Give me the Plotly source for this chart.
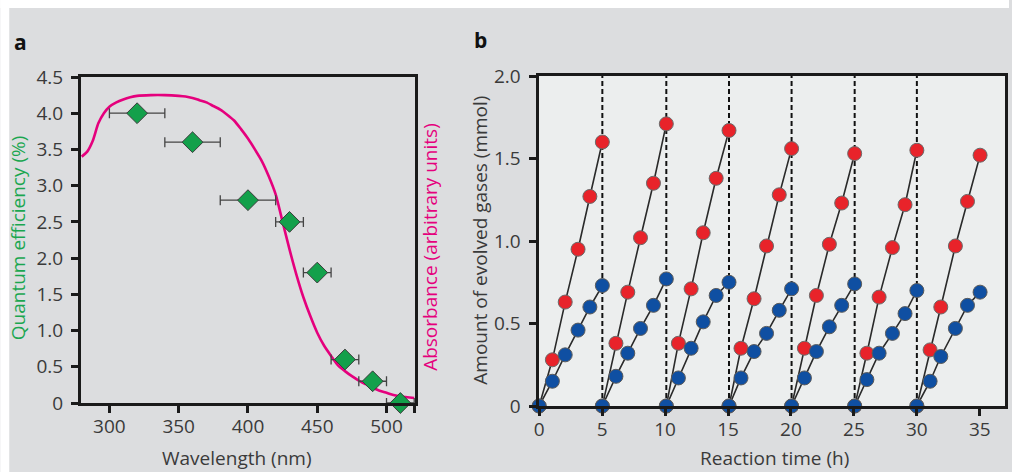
import plotly.graph_objects as go

# ---------------- Panel a data ----------------
qe_wavelength = [320, 360, 400, 430, 450, 470, 490, 510]
qe_values = [4.0, 3.6, 2.8, 2.5, 1.8, 0.6, 0.3, 0.0]
qe_xerr = [20, 20, 20, 10, 10, 10, 10, 10]

abs_wavelength = [280, 284, 288, 292, 296, 300, 305, 310, 315, 320, 330, 340, 350, 355,
                  360, 365, 370, 375, 380, 385, 390, 395, 400, 405, 410, 415, 420, 425,
                  430, 435, 440, 445, 450, 455, 460, 465, 470, 475, 480, 485, 490, 495,
                  500, 505, 510, 515, 520]
abs_values = [3.40, 3.47, 3.62, 3.86, 4.00, 4.09, 4.15, 4.19, 4.22, 4.24, 4.25, 4.25, 4.24, 4.23,
              4.21, 4.18, 4.15, 4.10, 4.05, 3.98, 3.90, 3.78, 3.65, 3.50, 3.34, 3.13, 2.88, 2.50,
              2.12, 1.77, 1.46, 1.20, 0.97, 0.79, 0.65, 0.52, 0.44, 0.37, 0.31, 0.26, 0.21, 0.17,
              0.14, 0.11, 0.09, 0.08, 0.07]

qe_yticks = [0, 0.5, 1.0, 1.5, 2.0, 2.5, 3.0, 3.5, 4.0, 4.5]
qe_yticklabels = ["0", "0.5", "1.0", "1.5", "2.0", "2.5", "3.0", "3.5", "4.0", "4.5"]
wl_ticks = [300, 350, 400, 450, 500, 520]
wl_ticklabels = ["300", "350", "400", "450", "500", ""]

# ---------------- Panel b data ----------------
cycle_times = [
    [0.0, 1.05, 2.07, 3.09, 4.03, 5.02],
    [5.02, 6.10, 7.04, 8.05, 9.08, 10.10],
    [10.10, 11.06, 12.07, 13.03, 14.06, 15.08],
    [15.08, 16.03, 17.07, 18.06, 19.07, 20.05],
    [20.05, 21.07, 22.02, 23.05, 24.03, 25.06],
    [25.06, 26.03, 27.00, 28.06, 29.06, 30.00],
    [30.00, 31.05, 31.90, 33.06, 34.02, 35.02],
]
red_gas = [
    [0, 0.28, 0.63, 0.95, 1.27, 1.60],
    [0, 0.38, 0.69, 1.02, 1.35, 1.71],
    [0, 0.38, 0.71, 1.05, 1.38, 1.67],
    [0, 0.35, 0.65, 0.97, 1.28, 1.56],
    [0, 0.35, 0.67, 0.98, 1.23, 1.53],
    [0, 0.32, 0.66, 0.96, 1.22, 1.55],
    [0, 0.34, 0.60, 0.97, 1.24, 1.52],
]
blue_gas = [
    [0, 0.15, 0.31, 0.46, 0.60, 0.73],
    [0, 0.18, 0.32, 0.47, 0.61, 0.77],
    [0, 0.17, 0.35, 0.51, 0.67, 0.75],
    [0, 0.17, 0.33, 0.44, 0.58, 0.71],
    [0, 0.17, 0.33, 0.48, 0.61, 0.74],
    [0, 0.16, 0.32, 0.44, 0.56, 0.70],
    [0, 0.15, 0.30, 0.47, 0.61, 0.69],
]
evac_times = [5.02, 10.10, 15.08, 20.05, 25.06, 30.00]

gas_yticks = [0, 0.5, 1.0, 1.5, 2.0]
gas_yticklabels = ["0", "0.5", "1.0", "1.5", "2.0"]
time_ticks = [0, 5, 10, 15, 20, 25, 30, 35]

# ---------------- Styles ----------------
FONT = "Open Sans"
TICKCOL = "#3a3a3a"
BG = "#dcdddf"
PLOTB_BG = "#eceeee"
GREEN = "#1aa64f"
PINK = "#e5007d"
RED = "#e8232a"
BLUE = "#0f4fa2"
FS = 19

fig = go.Figure()

# Panel a
fig.add_trace(go.Scatter(x=abs_wavelength, y=abs_values, mode="lines", line_shape="spline",
                         line=dict(color=PINK, width=2.6, smoothing=0.6), xaxis="x", yaxis="y",
                         showlegend=False, hoverinfo="skip"))
fig.add_trace(go.Scatter(x=qe_wavelength, y=qe_values, mode="markers",
                         error_x=dict(type="data", array=qe_xerr, color="#444444",
                                      thickness=1.3, width=5),
                         marker=dict(symbol="diamond", size=16, color="#13a04b",
                                     line=dict(color="#3c3c3c", width=1)),
                         xaxis="x", yaxis="y", showlegend=False, cliponaxis=False))

# Panel b: dashed evacuation lines
for t in evac_times:
    fig.add_trace(go.Scatter(x=[t, t], y=[0, 2.0], mode="lines",
                             line=dict(color="#111111", width=2, dash="5px,3px"),
                             xaxis="x2", yaxis="y2", showlegend=False, hoverinfo="skip"))
# lines
for tt, rr, bb in zip(cycle_times, red_gas, blue_gas):
    fig.add_trace(go.Scatter(x=tt, y=rr, mode="lines", line=dict(color="#2a2a2a", width=1.6),
                             xaxis="x2", yaxis="y2", showlegend=False, hoverinfo="skip"))
    fig.add_trace(go.Scatter(x=tt, y=bb, mode="lines", line=dict(color="#2a2a2a", width=1.6),
                             xaxis="x2", yaxis="y2", showlegend=False, hoverinfo="skip"))
# markers
for tt, rr in zip(cycle_times, red_gas):
    fig.add_trace(go.Scatter(x=tt, y=rr, mode="markers",
                             marker=dict(size=14, color=RED, line=dict(color="#6a6a6a", width=1)),
                             xaxis="x2", yaxis="y2", showlegend=False, cliponaxis=False))
for tt, bb in zip(cycle_times, blue_gas):
    fig.add_trace(go.Scatter(x=tt, y=bb, mode="markers",
                             marker=dict(size=14, color=BLUE, line=dict(color="#5a5a5a", width=1)),
                             xaxis="x2", yaxis="y2", showlegend=False, cliponaxis=False))

W, H = 1012, 472
ML, MR, MT, MB = 81, 4, 76, 66
PW, PH = W - ML - MR, H - MT - MB


def px(xp):
    return (xp - ML) / PW


def py(yp):
    return (H - MB - yp) / PH


axis_common = dict(showgrid=False, zeroline=False, showline=True, linecolor="#1a1a1a",
                   linewidth=3, mirror=True, ticks="outside", ticklen=7, tickwidth=2.5,
                   tickcolor="#1a1a1a",
                   tickfont=dict(family=FONT, size=FS, color=TICKCOL))

fig.update_layout(
    width=W, height=H,
    margin=dict(l=ML, r=MR, t=MT, b=MB),
    paper_bgcolor=BG, plot_bgcolor=BG,
    showlegend=False,
    xaxis=dict(domain=[px(81), px(416)], range=[279.5, 520.5], tickmode="array",
               tickvals=wl_ticks, ticktext=wl_ticklabels, anchor="y",
               ticklabelstandoff=-3, **axis_common),
    yaxis=dict(domain=[py(403), py(77)], range=[0, 4.5], tickmode="array",
               tickvals=qe_yticks, ticktext=qe_yticklabels, anchor="x",
               ticklabelstandoff=4, **axis_common),
    xaxis2=dict(domain=[px(540), px(1008)], range=[-0.05, 37.0], tickmode="array",
                tickvals=time_ticks, anchor="y2", ticklabelstandoff=-3, **axis_common),
    yaxis2=dict(domain=[py(406), py(76)], range=[0, 2.0], tickmode="array",
                tickvals=gas_yticks, ticktext=gas_yticklabels, anchor="x2",
                ticklabelstandoff=4, **axis_common),
)

# Panel b lighter plot background
fig.add_shape(type="rect", xref="x2 domain", yref="y2 domain", x0=0, x1=1, y0=0, y1=1,
              fillcolor=PLOTB_BG, line=dict(width=0), layer="below")
# white border strip at top and left
fig.add_shape(type="rect", xref="paper", yref="paper", x0=px(0), x1=px(W), y0=py(8), y1=py(0),
              fillcolor="white", line=dict(width=0), layer="below")
fig.add_shape(type="rect", xref="paper", yref="paper", x0=px(0), x1=px(9), y0=py(H), y1=py(0),
              fillcolor="white", line=dict(width=0), layer="below")

ann = [
    dict(text="<b>a</b>", x=px(20), y=py(42), size=21, color="#111111", angle=0),
    dict(text="<b>b</b>", x=px(482), y=py(40), size=21, color="#111111", angle=0),
    dict(text="Quantum efficiency (%)", x=px(18), y=py(238), size=FS, color=GREEN, angle=-90),
    dict(text="Absorbance (arbitrary units)", x=px(431), y=py(247), size=FS, color=PINK, angle=-90),
    dict(text="Amount of evolved gases (mmol)", x=px(481), y=py(240), size=FS, color=TICKCOL, angle=-90),
    dict(text="Wavelength (nm)", x=px(238), y=py(458), size=FS, color=TICKCOL, angle=0),
    dict(text="Reaction time (h)", x=px(777), y=py(458), size=FS, color=TICKCOL, angle=0),
]
for a in ann:
    fig.add_annotation(text=a["text"], x=a["x"], y=a["y"], xref="paper", yref="paper",
                       xanchor="center", yanchor="middle", showarrow=False,
                       textangle=a["angle"], font=dict(family=FONT, size=a["size"], color=a["color"]))

fig.write_html("out.html")
